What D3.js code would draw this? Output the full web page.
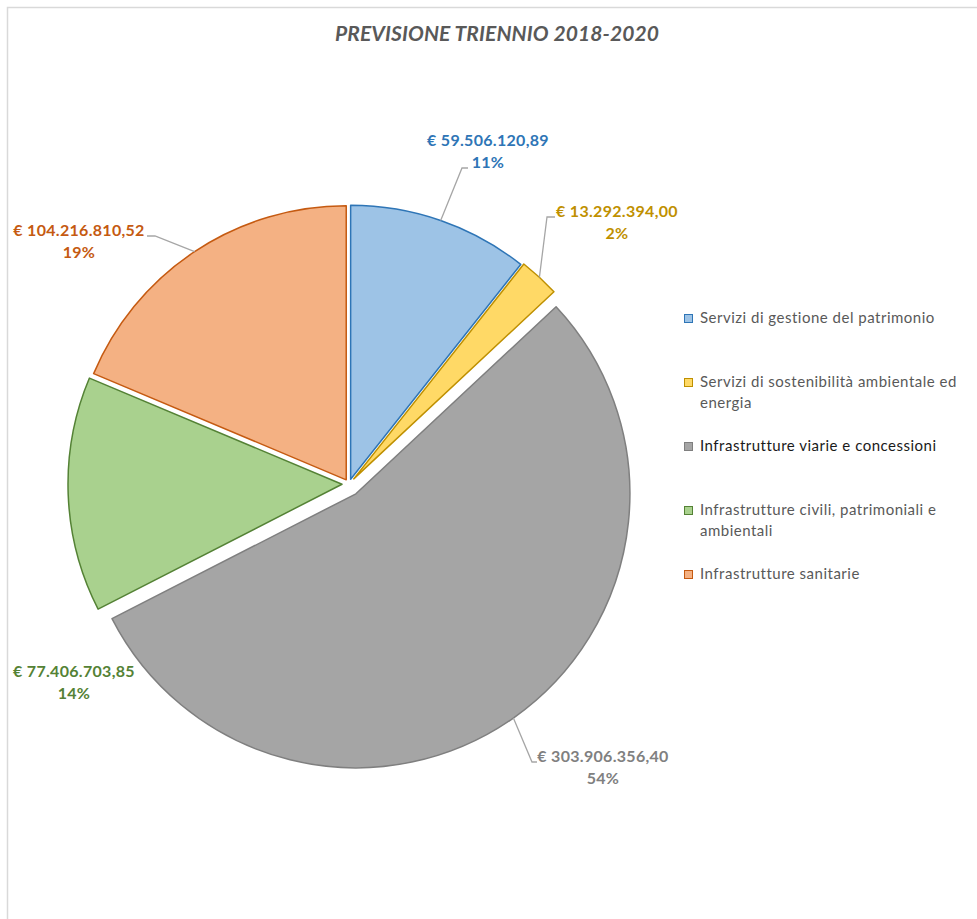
<!DOCTYPE html>
<html>
<head>
<meta charset="utf-8">
<script src="https://cdn.jsdelivr.net/npm/d3@7"></script>
<style>
  body { margin: 0; background: #fff; }
  svg { display: block; }
</style>
</head>
<body>
<div id="chart"></div>
<script>
// Data
const categories = [
  'Servizi di gestione del patrimonio',
  'Servizi di sostenibilità ambientale ed energia',
  'Infrastrutture viarie e concessioni',
  'Infrastrutture civili, patrimoniali e ambientali',
  'Infrastrutture sanitarie'
];
const values = [59506120.89, 13292394.00, 303906356.40, 77406703.85, 104216810.52];
const legendLines = [
  ['Servizi di gestione del patrimonio'],
  ['Servizi di sostenibilità ambientale ed', 'energia'],
  ['Infrastrutture viarie e concessioni'],
  ['Infrastrutture civili, patrimoniali e', 'ambientali'],
  ['Infrastrutture sanitarie']
];
const title = 'PREVISIONE TRIENNIO 2018-2020';

// Styles
const fills = ['#9dc3e6', '#ffd966', '#a5a5a5', '#a9d18e', '#f4b183'];
const strokes = ['#2e75b6', '#bf9000', '#7f7f7f', '#548235', '#c55a11'];
const labelColors = ['#2e75b6', '#bf9000', '#808080', '#548235', '#c55a11'];
const explode = [5, 7, 12, 7, 5];

// Layout of data labels (text position and leader elbow)
const labelLayout = [
  { x: 488, y: 146, elbow: [[462, 168], [468, 168]] },
  { x: 617, y: 217, elbow: [[547, 217], [555, 217]] },
  { x: 603, y: 762, elbow: [[532, 762], [537, 762]] },
  { x: 74,  y: 677, elbow: null },
  { x: 79,  y: 236, elbow: [[155, 236], [147, 236]] }
];

const width = 977, height = 919;
const cx = 349, cy = 484, radius = 274;

const svg = d3.select('#chart').append('svg')
  .attr('width', width)
  .attr('height', height);

// chart frame
svg.append('rect')
  .attr('x', 7.5).attr('y', 7.5)
  .attr('width', width + 20).attr('height', height + 20)
  .attr('fill', '#fff')
  .attr('stroke', '#d9d9d9')
  .attr('stroke-width', 1.5);

// title
svg.append('text')
  .attr('x', 497).attr('y', 41)
  .attr('text-anchor', 'middle')
  .attr('font-family', 'Lato, sans-serif')
  .attr('font-size', 21)
  .attr('font-weight', 'bold')
  .attr('font-style', 'italic')
  .attr('letter-spacing', 0.1)
  .attr('fill', '#595959')
  .text(title);

const locale = d3.formatLocale({ decimal: ',', thousands: '.', grouping: [3], currency: ['€ ', ''] });
const money = locale.format('$,.2f');
const total = d3.sum(values);

const pie = d3.pie().sort(null).value(d => d);
const arcs = pie(values);
const arc = d3.arc().innerRadius(0).outerRadius(radius);

const offset = (d, i) => {
  const a = (d.startAngle + d.endAngle) / 2;
  return [Math.sin(a) * explode[i], -Math.cos(a) * explode[i]];
};

const g = svg.append('g').attr('transform', `translate(${cx},${cy})`);

g.selectAll('.slice')
  .data(arcs)
  .enter()
  .append('path')
  .attr('class', 'slice')
  .attr('transform', (d, i) => {
    const o = offset(d, i);
    return `translate(${o[0]},${o[1]})`;
  })
  .attr('d', arc)
  .attr('fill', (d, i) => fills[i])
  .attr('stroke', (d, i) => strokes[i])
  .attr('stroke-width', 1.5)
  .attr('stroke-linejoin', 'round');

// leader lines
arcs.forEach((d, i) => {
  const L = labelLayout[i];
  if (!L.elbow) return;
  const a = (d.startAngle + d.endAngle) / 2;
  const o = offset(d, i);
  const start = [cx + o[0] + Math.sin(a) * radius, cy + o[1] - Math.cos(a) * radius];
  svg.append('path')
    .attr('d', d3.line()([start].concat(L.elbow)))
    .attr('fill', 'none')
    .attr('stroke', '#a6a6a6')
    .attr('stroke-width', 1.3);
});

// data labels
arcs.forEach((d, i) => {
  const L = labelLayout[i];
  const t = svg.append('text')
    .attr('text-anchor', 'middle')
    .attr('font-family', 'Lato, sans-serif')
    .attr('font-size', 16)
    .attr('font-weight', 'bold')
    .attr('letter-spacing', 0.3)
    .attr('fill', labelColors[i]);
  t.append('tspan').attr('x', L.x).attr('y', L.y).text(money(values[i]));
  t.append('tspan').attr('x', L.x).attr('y', L.y + 22)
    .text(Math.round(values[i] / total * 100) + '%');
});

// legend
const legend = svg.append('g').attr('class', 'legend');
const items = legend.selectAll('.item')
  .data(categories)
  .enter()
  .append('g')
  .attr('class', 'item')
  .attr('transform', (d, i) => `translate(684,${323 + i * 64})`);

items.append('rect')
  .attr('x', 0.5).attr('y', -8.5)
  .attr('width', 8).attr('height', 8)
  .attr('fill', (d, i) => fills[i])
  .attr('stroke', (d, i) => strokes[i])
  .attr('stroke-width', 1);

items.append('text')
  .attr('font-family', 'Lato, sans-serif')
  .attr('font-size', 15)
  .attr('letter-spacing', 0.5)
  .attr('fill', (d, i) => i === 2 ? '#1a1a1a' : '#595959')
  .each(function (d, i) {
    d3.select(this).selectAll('tspan')
      .data(legendLines[i])
      .enter()
      .append('tspan')
      .attr('x', 16)
      .attr('y', (l, j) => j * 21)
      .text(l => l);
  });
</script>
</body>
</html>
